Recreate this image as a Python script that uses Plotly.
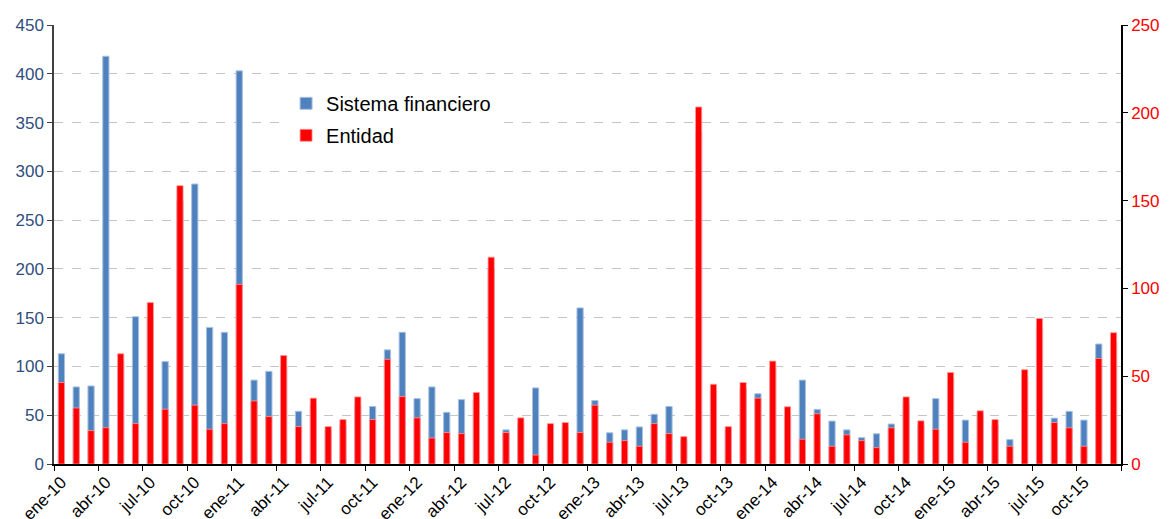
import plotly.graph_objects as go

months = ["ene", "feb", "mar", "abr", "may", "jun", "jul", "ago", "sep", "oct", "nov", "dic"]
years = ["10", "11", "12", "13", "14", "15"]
categories = [f"{m}-{y}" for y in years for m in months]

# Sistema financiero (left axis)
sistema = [
    113, 79, 80, 418, 105, 151, 150, 105, 270, 287, 140, 135,
    403, 86, 95, 100, 54, 60, 35, 40, 60, 59, 117, 135,
    67, 79, 53, 66, 65, 200, 35, 42, 78, 38, 38, 160,
    65, 32, 35, 38, 51, 59, 25, 340, 75, 35, 78, 72,
    98, 52, 86, 56, 44, 35, 27, 31, 41, 62, 40, 67,
    88, 45, 50, 40, 25, 90, 140, 47, 54, 45, 123, 125,
]

# Entidad (right axis)
entidad = [
    46.4, 31.9, 19.0, 20.7, 62.8, 23.0, 91.9, 31.2, 158.5, 33.5, 19.8, 23.0,
    102.3, 35.9, 27.0, 61.8, 21.3, 37.5, 21.3, 25.3, 38.2, 25.3, 59.6, 38.4,
    26.3, 14.8, 17.9, 17.3, 40.7, 117.8, 17.9, 26.3, 5.1, 23.0, 23.6, 17.9,
    33.5, 12.4, 13.3, 10.1, 23.0, 17.3, 15.6, 203.3, 45.4, 21.3, 46.4, 37.5,
    58.6, 32.6, 14.1, 28.6, 10.1, 16.6, 13.3, 9.3, 20.6, 38.2, 24.6, 19.8,
    52.1, 12.4, 30.3, 25.3, 10.1, 53.7, 82.9, 23.6, 20.6, 10.1, 60.1, 74.8,
]

left_ticks = list(range(0, 451, 50))
right_ticks = list(range(0, 251, 50))

FONT = "Liberation Sans, Arial, sans-serif"

fig = go.Figure()
fig.add_trace(go.Bar(
    x=categories, y=sistema, name="Sistema financiero",
    marker=dict(color="#4F81BD", line=dict(color="#A7C1E2", width=1)),
    width=0.42, yaxis="y", legendgroup="a",
))
fig.add_trace(go.Bar(
    x=categories, y=entidad, name="Entidad",
    marker=dict(color="#FF0000", line=dict(color="#FF9A9A", width=0.8)),
    width=0.42, yaxis="y2", legendgroup="b",
))

fig.update_layout(
    width=1162, height=511,
    margin=dict(l=46, r=49, t=17, b=55),
    paper_bgcolor="white", plot_bgcolor="white",
    barmode="overlay",
    font=dict(family=FONT, size=16, color="black"),
    showlegend=True,
    legend=dict(
        x=0.2175, y=0.866, xanchor="left", yanchor="top",
        bgcolor="white", borderwidth=0,
        font=dict(family=FONT, size=20, color="black"),
        traceorder="grouped", tracegroupgap=3,
        itemwidth=30,
    ),
    xaxis=dict(
        type="category", categoryorder="array", categoryarray=categories,
        range=[-0.5, len(categories) - 0.5],
        tickmode="linear", tick0=0, dtick=3,
        tickson="boundaries", ticks="outside", ticklen=5, tickcolor="black",
        tickangle=-45, tickfont=dict(family=FONT, size=17, color="black"),
        showline=True, linecolor="black", linewidth=1.5,
        showgrid=False, automargin=False,
    ),
    yaxis=dict(
        range=[0, 450], tickvals=left_ticks,
        ticks="outside", ticklen=5, tickcolor="#404040",
        tickfont=dict(family=FONT, size=17, color="#2F4E7E"),
        showline=True, linecolor="#404040", linewidth=1.5,
        showgrid=True, gridcolor="#C4C4C4", griddash="dash", gridwidth=1,
        zeroline=False, automargin=False,
    ),
    yaxis2=dict(
        range=[0, 250], tickvals=right_ticks, overlaying="y", side="right",
        ticks="outside", ticklen=5, tickcolor="black",
        tickfont=dict(family=FONT, size=17, color="#FF0000"),
        showline=True, linecolor="black", linewidth=1.5,
        showgrid=False, zeroline=False, automargin=False,
    ),
)

fig.write_html("out.html")
